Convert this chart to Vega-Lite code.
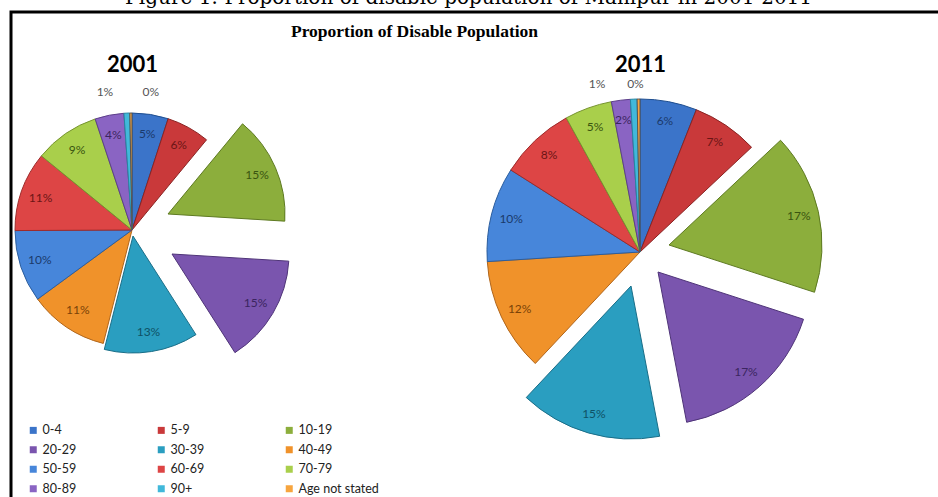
{
  "$schema": "https://vega.github.io/schema/vega-lite/v6.json",
  "width": 935,
  "height": 495,
  "autosize": {"type": "none"},
  "padding": {"left": 11, "top": 12, "right": -8, "bottom": -10},
  "background": "white",
  "title": {"text": "Figure 1: Proportion of disable population of Manipur in 2001-2011", "font": "DejaVu Serif", "fontSize": 20, "fontWeight": "normal", "color": "#000", "anchor": "middle", "frame": "group", "baseline": "alphabetic", "offset": 0, "dx": -10, "dy": 12},
  "config": {"view": {"stroke": "#000", "strokeWidth": 3, "fill": "white"}},
  "data": {"values": [
    {"year": 2001, "age": "0-4", "idx": 1, "pct": 0.05},
    {"year": 2001, "age": "5-9", "idx": 2, "pct": 0.06},
    {"year": 2001, "age": "10-19", "idx": 3, "pct": 0.15},
    {"year": 2001, "age": "20-29", "idx": 4, "pct": 0.15},
    {"year": 2001, "age": "30-39", "idx": 5, "pct": 0.13},
    {"year": 2001, "age": "40-49", "idx": 6, "pct": 0.11},
    {"year": 2001, "age": "50-59", "idx": 7, "pct": 0.10},
    {"year": 2001, "age": "60-69", "idx": 8, "pct": 0.11},
    {"year": 2001, "age": "70-79", "idx": 9, "pct": 0.09},
    {"year": 2001, "age": "80-89", "idx": 10, "pct": 0.04},
    {"year": 2001, "age": "90+", "idx": 11, "pct": 0.008},
    {"year": 2001, "age": "Age not stated", "idx": 12, "pct": 0.003},
    {"year": 2011, "age": "0-4", "idx": 1, "pct": 0.06},
    {"year": 2011, "age": "5-9", "idx": 2, "pct": 0.07},
    {"year": 2011, "age": "10-19", "idx": 3, "pct": 0.17},
    {"year": 2011, "age": "20-29", "idx": 4, "pct": 0.17},
    {"year": 2011, "age": "30-39", "idx": 5, "pct": 0.15},
    {"year": 2011, "age": "40-49", "idx": 6, "pct": 0.12},
    {"year": 2011, "age": "50-59", "idx": 7, "pct": 0.10},
    {"year": 2011, "age": "60-69", "idx": 8, "pct": 0.08},
    {"year": 2011, "age": "70-79", "idx": 9, "pct": 0.05},
    {"year": 2011, "age": "80-89", "idx": 10, "pct": 0.02},
    {"year": 2011, "age": "90+", "idx": 11, "pct": 0.007},
    {"year": 2011, "age": "Age not stated", "idx": 12, "pct": 0.003}
  ]},
  "encoding": {
    "theta": {"field": "pct", "type": "quantitative", "stack": "normalize"},
    "order": {"field": "idx", "type": "quantitative"},
    "radius": {"field": "year", "type": "quantitative", "scale": {"type": "linear", "domain": [2001, 2011], "range": [117, 153], "zero": false, "nice": false}},
    "x": {"field": "year", "type": "quantitative", "scale": {"domain": [2001, 2011], "range": [121, 629], "zero": false, "nice": false},
      "axis": {"orient": "top", "values": [2001, 2011], "format": "d", "domain": false, "ticks": false, "tickSize": 0, "grid": false, "labelPadding": -59, "labelBaseline": "alphabetic", "labelFont": "Lato", "labelFontSize": 22, "labelFontWeight": "bold", "labelColor": "#000", "labelFlush": false, "labelOverlap": false,
        "title": "Proportion of Disable Population", "titleFont": "Liberation Serif", "titleFontSize": 17.5, "titleFontWeight": "bold", "titleColor": "#000", "titleX": 403, "titleY": 24, "titleBaseline": "alphabetic", "titleAlign": "center",
        "encode": {"labels": {"update": {"dy": {"signal": "datum.value === 2001 ? 7 : 0"}}}}}},
    "y": {"field": "year", "type": "quantitative", "scale": {"domain": [2001, 2011], "range": [218, 240], "zero": false, "nice": false}, "axis": null},
    "color": {"field": "age", "type": "nominal",
      "scale": {"domain": ["0-4", "5-9", "10-19", "20-29", "30-39", "40-49", "50-59", "60-69", "70-79", "80-89", "90+", "Age not stated"],
        "range": ["#3b74c9", "#c9393a", "#8cae3c", "#7a55ae", "#2a9ec0", "#f0922a", "#4786da", "#dd4545", "#a9cf4b", "#8a64c3", "#41b8da", "#f7a53e"]},
      "legend": {"orient": "none", "legendX": 16, "legendY": 412, "direction": "horizontal", "columns": 3, "columnPadding": 78, "rowPadding": 6.5, "symbolType": "square", "symbolSize": 49, "symbolStrokeWidth": 0, "labelFont": "Lato", "labelFontSize": 12.5, "labelColor": "#222", "labelOffset": 3, "title": null, "padding": 0}}
  },
  "layer": [
    {"mark": {"type": "arc", "strokeWidth": 1, "radius2": 0},
      "encoding": {"stroke": {"field": "age", "type": "nominal", "legend": null, "scale": {"domain": ["0-4", "5-9", "10-19", "20-29", "30-39", "40-49", "50-59", "60-69", "70-79", "80-89", "90+", "Age not stated"], "range": ["#1f4e8f", "#8a2322", "#5e7a22", "#4f3478", "#1a6e88", "#b0651a", "#2c5e9e", "#9e2a2a", "#76942e", "#5d3f8a", "#2686a2", "#555555"]}},
        "opacity": {"condition": {"test": "indexof(['10-19','20-29','30-39'], datum.age) >= 0", "value": 0}, "value": 1}}},
    {"mark": {"type": "arc", "strokeWidth": 1, "radius2": 0, "xOffset": 36, "yOffset": -16},
      "encoding": {"stroke": {"field": "age", "type": "nominal", "legend": null},
        "opacity": {"condition": {"test": "datum.year == 2001 && datum.age == '10-19'", "value": 1}, "value": 0}}},
    {"mark": {"type": "arc", "strokeWidth": 1, "radius2": 0, "xOffset": 40, "yOffset": 24},
      "encoding": {"stroke": {"field": "age", "type": "nominal", "legend": null},
        "opacity": {"condition": {"test": "datum.year == 2001 && datum.age == '20-29'", "value": 1}, "value": 0}}},
    {"mark": {"type": "arc", "strokeWidth": 1, "radius2": 0, "xOffset": 1, "yOffset": 6},
      "encoding": {"stroke": {"field": "age", "type": "nominal", "legend": null},
        "opacity": {"condition": {"test": "datum.year == 2001 && datum.age == '30-39'", "value": 1}, "value": 0}}},
    {"mark": {"type": "arc", "strokeWidth": 1, "radius2": 0, "xOffset": 29, "yOffset": -7},
      "encoding": {"stroke": {"field": "age", "type": "nominal", "legend": null},
        "opacity": {"condition": {"test": "datum.year == 2011 && datum.age == '10-19'", "value": 1}, "value": 0}}},
    {"mark": {"type": "arc", "strokeWidth": 1, "radius2": 0, "xOffset": 18, "yOffset": 20},
      "encoding": {"stroke": {"field": "age", "type": "nominal", "legend": null},
        "opacity": {"condition": {"test": "datum.year == 2011 && datum.age == '20-29'", "value": 1}, "value": 0}}},
    {"mark": {"type": "arc", "strokeWidth": 1, "radius2": 0, "xOffset": -9, "yOffset": 34},
      "encoding": {"stroke": {"field": "age", "type": "nominal", "legend": null},
        "opacity": {"condition": {"test": "datum.year == 2011 && datum.age == '30-39'", "value": 1}, "value": 0}}},
    {"mark": {"type": "text", "radiusOffset": -20, "font": "Lato", "fontSize": 12, "baseline": "middle"},
      "encoding": {"text": {"field": "pct", "type": "quantitative", "format": ".0%"},
        "fill": {"field": "age", "type": "nominal", "legend": null, "scale": {"domain": ["0-4", "5-9", "10-19", "20-29", "30-39", "40-49", "50-59", "60-69", "70-79", "80-89", "90+", "Age not stated"], "range": ["#1b3a6b", "#6b1515", "#3a5510", "#3b2560", "#0f5266", "#7a4208", "#1b3a6b", "#6b1515", "#3a5510", "#3b2560", "#0f5266", "#7a4208"]}},
        "opacity": {"condition": {"test": "indexof(['10-19','20-29','30-39','90+','Age not stated'], datum.age) < 0", "value": 1}, "value": 0}}},
    {"mark": {"type": "text", "radiusOffset": -20, "font": "Lato", "fontSize": 12, "baseline": "middle", "xOffset": 36, "yOffset": -16},
      "encoding": {"text": {"field": "pct", "type": "quantitative", "format": ".0%"}, "fill": {"field": "age", "type": "nominal", "legend": null},
        "opacity": {"condition": {"test": "datum.year == 2001 && datum.age == '10-19'", "value": 1}, "value": 0}}},
    {"mark": {"type": "text", "radiusOffset": -20, "font": "Lato", "fontSize": 12, "baseline": "middle", "xOffset": 40, "yOffset": 24},
      "encoding": {"text": {"field": "pct", "type": "quantitative", "format": ".0%"}, "fill": {"field": "age", "type": "nominal", "legend": null},
        "opacity": {"condition": {"test": "datum.year == 2001 && datum.age == '20-29'", "value": 1}, "value": 0}}},
    {"mark": {"type": "text", "radiusOffset": -20, "font": "Lato", "fontSize": 12, "baseline": "middle", "xOffset": 1, "yOffset": 6},
      "encoding": {"text": {"field": "pct", "type": "quantitative", "format": ".0%"}, "fill": {"field": "age", "type": "nominal", "legend": null},
        "opacity": {"condition": {"test": "datum.year == 2001 && datum.age == '30-39'", "value": 1}, "value": 0}}},
    {"mark": {"type": "text", "radiusOffset": -20, "font": "Lato", "fontSize": 12, "baseline": "middle", "xOffset": 29, "yOffset": -7},
      "encoding": {"text": {"field": "pct", "type": "quantitative", "format": ".0%"}, "fill": {"field": "age", "type": "nominal", "legend": null},
        "opacity": {"condition": {"test": "datum.year == 2011 && datum.age == '10-19'", "value": 1}, "value": 0}}},
    {"mark": {"type": "text", "radiusOffset": -20, "font": "Lato", "fontSize": 12, "baseline": "middle", "xOffset": 18, "yOffset": 20},
      "encoding": {"text": {"field": "pct", "type": "quantitative", "format": ".0%"}, "fill": {"field": "age", "type": "nominal", "legend": null},
        "opacity": {"condition": {"test": "datum.year == 2011 && datum.age == '20-29'", "value": 1}, "value": 0}}},
    {"mark": {"type": "text", "radiusOffset": -20, "font": "Lato", "fontSize": 12, "baseline": "middle", "xOffset": -9, "yOffset": 34},
      "encoding": {"text": {"field": "pct", "type": "quantitative", "format": ".0%"}, "fill": {"field": "age", "type": "nominal", "legend": null},
        "opacity": {"condition": {"test": "datum.year == 2011 && datum.age == '30-39'", "value": 1}, "value": 0}}},
    {"mark": {"type": "text", "radiusOffset": 21, "font": "Lato", "fontSize": 12, "baseline": "middle", "dx": -21, "fill": "#555555"},
      "encoding": {"text": {"field": "pct", "type": "quantitative", "format": ".0%"},
        "opacity": {"condition": {"test": "datum.year == 2001 && datum.age == '90+'", "value": 1}, "value": 0}}},
    {"mark": {"type": "text", "radiusOffset": 21, "font": "Lato", "fontSize": 12, "baseline": "middle", "dx": 20, "fill": "#555555"},
      "encoding": {"text": {"field": "pct", "type": "quantitative", "format": ".0%"},
        "opacity": {"condition": {"test": "datum.year == 2001 && datum.age == 'Age not stated'", "value": 1}, "value": 0}}},
    {"mark": {"type": "text", "radiusOffset": 15, "font": "Lato", "fontSize": 12, "baseline": "middle", "dx": -36, "fill": "#555555"},
      "encoding": {"text": {"field": "pct", "type": "quantitative", "format": ".0%"},
        "opacity": {"condition": {"test": "datum.year == 2011 && datum.age == '90+'", "value": 1}, "value": 0}}},
    {"mark": {"type": "text", "radiusOffset": 15, "font": "Lato", "fontSize": 12, "baseline": "middle", "dx": -3, "fill": "#555555"},
      "encoding": {"text": {"field": "pct", "type": "quantitative", "format": ".0%"},
        "opacity": {"condition": {"test": "datum.year == 2011 && datum.age == 'Age not stated'", "value": 1}, "value": 0}}}
  ]
}
